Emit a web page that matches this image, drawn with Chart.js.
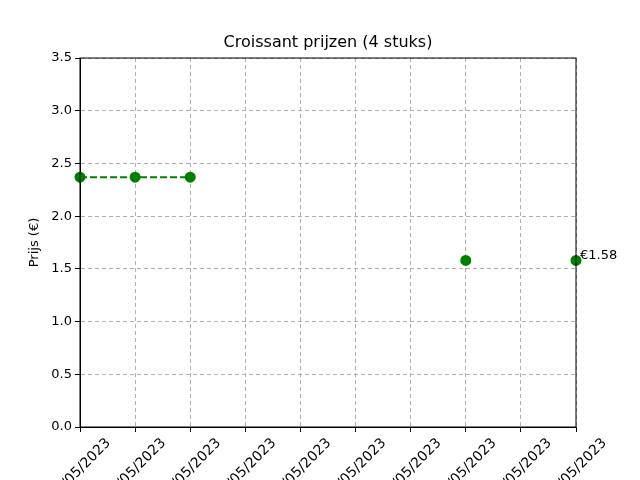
<!DOCTYPE html>
<html><head><meta charset="utf-8">
<script src="https://cdn.jsdelivr.net/npm/chart.js@4"></script>
<style>html,body{margin:0;padding:0;background:#fff;overflow:hidden}#w{width:640px;height:480px}</style>
</head><body><div id="w"><canvas id="c"></canvas></div>
<script>
const categories = ['20/05/2023','21/05/2023','22/05/2023','23/05/2023','24/05/2023','25/05/2023','26/05/2023','27/05/2023','28/05/2023','29/05/2023'];
const prices = [2.37, 2.37, 2.37, null, null, null, null, 1.58, null, 1.58];
const yTicks = [0, 0.5, 1, 1.5, 2, 2.5, 3, 3.5];
const lastLabel = '€1.58';
const titleText = 'Croissant prijzen (4 stuks)';
const yTitle = 'Prijs (€)';

const custom = {
  id: 'custom',
  afterDraw(chart) {
    const a = chart.chartArea, ctx = chart.ctx;
    ctx.save();
    ctx.strokeStyle = '#000'; ctx.lineWidth = 1; ctx.setLineDash([]);
    ctx.strokeRect(a.left, a.top, a.right - a.left, a.bottom - a.top);
    ctx.fillStyle = '#000';
    // title
    ctx.font = '16px "DejaVu Sans"'; ctx.textAlign = 'center'; ctx.textBaseline = 'middle';
    ctx.fillText(titleText, (a.left + a.right) / 2, 43);
    // y title
    ctx.font = '13px "DejaVu Sans"';
    ctx.save(); ctx.translate(35, (a.top + a.bottom) / 2); ctx.rotate(-Math.PI / 2);
    ctx.fillText(yTitle, 0, 0); ctx.restore();
    // x labels
    const xs = chart.scales.x;
    ctx.font = '14px "DejaVu Sans"';
    categories.forEach((c, i) => {
      const x = xs.getPixelForValue(i);
      const w = ctx.measureText(c).width;
      const h = (w + 14) * Math.SQRT1_2;
      ctx.save(); ctx.translate(x, a.bottom + 9 + h / 2); ctx.rotate(-Math.PI / 4);
      ctx.fillText(c, 0, 0); ctx.restore();
    });
    // annotation
    const p = chart.getDatasetMeta(0).data[prices.length - 1];
    ctx.textAlign = 'left'; ctx.font = '13px "DejaVu Sans"';
    ctx.fillText(lastLabel, p.x + 4, p.y - 5);
    ctx.restore();
  }
};

new Chart(document.getElementById('c'), {
  type: 'line',
  data: { labels: categories, datasets: [{
    data: prices, borderColor: 'green', backgroundColor: 'green',
    borderDash: [7, 3], borderWidth: 2, pointRadius: 4.5, pointHoverRadius: 4.5,
    spanGaps: false, clip: false, tension: 0
  }]},
  options: {
    responsive: true, maintainAspectRatio: false, animation: false,
    layout: { padding: { top: 58, right: 64, left: 0, bottom: 0 } },
    plugins: { legend: { display: false }, tooltip: { enabled: false }, title: { display: false } },
    scales: {
      x: {
        offset: false,
        grid: { color: '#b0b0b0', tickColor: '#000', tickLength: 5 },
        border: { color: '#000', dash: [4, 3] },
        ticks: { display: false },
        afterFit(s) { s.height = 53; }
      },
      y: {
        min: 0, max: 3.5,
        afterBuildTicks(s) { s.ticks = yTicks.map(v => ({ value: v })); },
        grid: { color: '#b0b0b0', tickColor: '#000', tickLength: 5 },
        border: { color: '#000', dash: [4, 3] },
        ticks: { color: '#000', font: { family: 'DejaVu Sans', size: 13 }, callback: v => v.toFixed(1) },
        afterFit(s) { s.width = 80; }
      }
    }
  },
  plugins: [custom]
});
</script></body></html>
